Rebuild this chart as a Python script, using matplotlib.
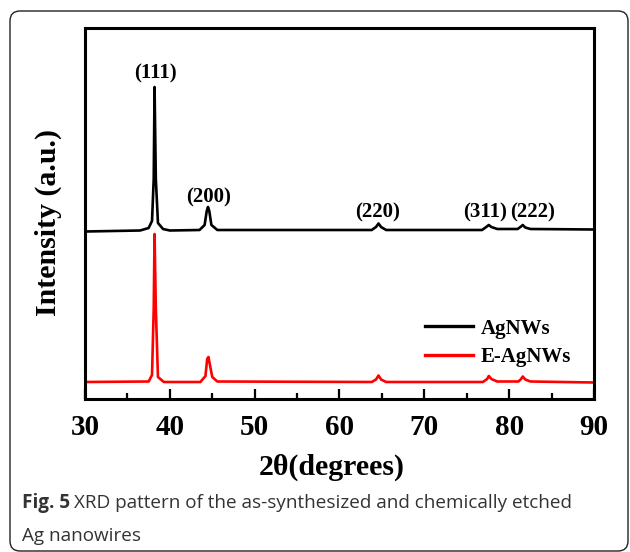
import matplotlib.pyplot as plt
from matplotlib.patches import FancyBboxPatch
from matplotlib.transforms import IdentityTransform

# XRD patterns, points (2theta in degrees, intensity in a.u.)
two_theta_agnw = [30.0, 36.5, 37.5, 37.9, 38.1, 38.2, 38.35, 38.6, 39.2, 40.0,
                  43.5, 44.1, 44.35, 44.5, 44.65, 44.9, 45.6,
                  63.8, 64.3, 64.6, 64.9, 65.5,
                  76.8, 77.3, 77.6, 77.9, 78.6,
                  81.0, 81.4, 81.6, 81.9, 82.5, 90.0]
intensity_agnw = [1675, 1685, 1710, 1780, 2200, 3120, 2200, 1760, 1700, 1685,
                  1690, 1740, 1880, 1920, 1880, 1740, 1690,
                  1690, 1720, 1755, 1720, 1690,
                  1690, 1720, 1740, 1720, 1700,
                  1700, 1725, 1740, 1715, 1700, 1695]

two_theta_eagnw = [30.0, 37.5, 37.9, 38.1, 38.2, 38.35, 38.6, 39.3,
                   43.6, 44.2, 44.4, 44.55, 44.75, 45.0, 45.6,
                   63.8, 64.3, 64.6, 64.9, 65.5,
                   76.9, 77.4, 77.6, 77.9, 78.6,
                   81.1, 81.4, 81.6, 81.9, 82.5, 90.0]
intensity_eagnw = [170, 175, 240, 900, 1650, 900, 220, 170,
                   170, 230, 400, 420, 330, 220, 175,
                   170, 195, 235, 195, 170,
                   170, 200, 230, 200, 175,
                   175, 200, 225, 195, 175, 165]

peak_labels = ["(111)", "(200)", "(220)", "(311)", "(222)"]
peak_label_x = [38.3, 44.6, 64.5, 77.1, 82.7]
peak_label_y = [3260, 2020, 1870, 1870, 1870]

serif = "Liberation Serif"

fig = plt.figure(figsize=(6.3, 5.52), dpi=100)
ax = fig.add_axes([85/630, 1-399/552, 509/630, 371/552])

ax.plot(two_theta_agnw, intensity_agnw, color="black", lw=1.9, label="AgNWs")
ax.plot(two_theta_eagnw, intensity_eagnw, color="#ff0000", lw=1.9, label="E-AgNWs")

for lab, px, py in zip(peak_labels, peak_label_x, peak_label_y):
    ax.text(px, py, lab, ha="center", va="center", fontsize=15,
            fontweight="bold", family=serif)

ax.set_xlim(30, 90)
ax.set_ylim(0, 3710)
ax.set_xticks([30, 40, 50, 60, 70, 80, 90])
ax.set_xticks([35, 45, 55, 65, 75, 85], minor=True)
ax.set_yticks([])
ax.tick_params(axis="x", which="major", direction="in", length=7, width=1.6,
               pad=11, labelsize=21)
ax.tick_params(axis="x", which="minor", direction="in", length=4.5, width=1.6)
for lbl in ax.get_xticklabels():
    lbl.set_family(serif)
    lbl.set_fontweight("bold")
for sp in ax.spines.values():
    sp.set_linewidth(2.2)

leg = ax.legend(loc="upper left", bbox_to_anchor=(0.648, 0.245), frameon=False,
                borderpad=0, handlelength=2.3, handletextpad=0.35,
                labelspacing=0.4, prop={"family": serif, "weight": "bold", "size": 15})
for h in leg.get_lines():
    h.set_linewidth(2.4)

fig.text(332/630, 1-467/552, "2\u03b8(degrees)", ha="center", va="center",
         fontsize=21.5, fontweight="bold", family=serif)
fig.text(48/630, 1-223/552, "Intensity (a.u.)", ha="center", va="center",
         rotation=90, fontsize=21.5, fontweight="bold", family=serif)

# caption
cap_color = "#333333"
t1 = fig.text(22/630, 1-503/552, "Fig. 5", ha="left", va="center", fontsize=13.6,
              fontweight="bold", family="Open Sans", color=cap_color)
fig.canvas.draw()
bb = t1.get_window_extent()
fig.text((bb.x1 + 4)/630, 1-503/552, "XRD pattern of the as-synthesized and chemically etched",
         ha="left", va="center", fontsize=13.6, family="Open Sans", color=cap_color)
fig.text(22/630, 1-536/552, "Ag nanowires", ha="left", va="center", fontsize=13.6,
         family="Open Sans", color=cap_color)

# rounded frame around the figure panel
frame = FancyBboxPatch((10, 1), 618, 540, boxstyle="round,pad=0,rounding_size=10",
                       transform=IdentityTransform(), fill=False, lw=1.0,
                       edgecolor="#222222")
fig.patches.append(frame)

fig.savefig("out.png", dpi=100)
